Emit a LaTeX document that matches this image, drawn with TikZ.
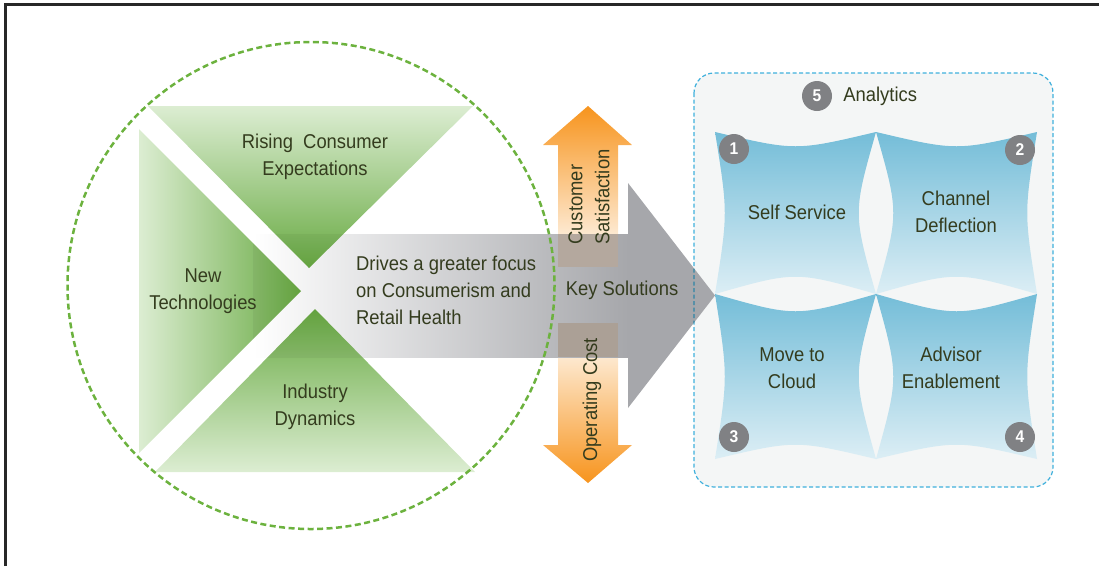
\documentclass[tikz,border=0pt]{standalone}
\usepackage{fontspec}
\setmainfont{Liberation Sans}[FakeStretch=0.92]
\usetikzlibrary{shapes,arrows,positioning}

\definecolor{framegray}{RGB}{40,40,40}
\definecolor{txtgreen}{RGB}{52,60,30}
\definecolor{leafgreen}{RGB}{104,170,66}
\definecolor{paleleaf}{RGB}{220,237,210}
\definecolor{ringgreen}{RGB}{108,178,62}
\definecolor{sunorange}{RGB}{247,148,29}
\definecolor{arrowgray}{RGB}{166,167,171}
\definecolor{mixbrown}{RGB}{180,168,158}
\definecolor{skyblue}{RGB}{116,189,216}
\definecolor{paleblue}{RGB}{220,238,245}
\definecolor{boxblue}{RGB}{63,176,220}
\definecolor{panelgray}{RGB}{244,246,246}
\definecolor{badgegray}{RGB}{128,129,132}

% one concave tile: x1 y1 x2 y2, then the bend of top, right, bottom, left side
\newcommand{\pillow}[8]{%
  \shade[top color=skyblue, bottom color=paleblue]
    (#1,#2) .. controls ({(#1+#3)/2},{#2+#5}) .. (#3,#2)
    .. controls ({#3-#6},{(#2+#4)/2}) .. (#3,#4)
    .. controls ({(#1+#3)/2},{#4-#7}) .. (#1,#4)
    .. controls ({#1+#8},{(#2+#4)/2}) .. cycle;}

\begin{document}
\begin{tikzpicture}[x=1pt, y=-1pt,
                    words/.style={text=txtgreen, font=\fontsize{20}{27}\selectfont, align=center, inner sep=0pt},
                    badge/.style={circle, fill=badgegray, text=white, minimum size=30pt, inner sep=0pt,
                                  font=\bfseries\fontsize{17}{17}\selectfont},
                    panelline/.style={line width=1.2pt, dash pattern=on 4pt off 2.5pt, rounded corners=20pt},
                    leaves/.style={insert path={(148,106) -- (473,106) -- (309,268) -- cycle
                                                (139,129) -- (301,291) -- (139,453) -- cycle
                                                (315,309) -- (475,472) -- (155,472) -- cycle}}]
    \useasboundingbox (0,0) rectangle (1099,566);
    \draw[framegray, line width=2.5pt] (5.5,566) -- (5.5,4.5) -- (1099,4.5);

    % right panel
    \draw[boxblue, fill=panelgray, panelline] (694,73) rectangle (1053,487);
    \pillow{715}{132}{876}{294}{19}{23}{23}{13}
    \pillow{876}{132}{1037}{294}{19}{13}{23}{23}
    \pillow{715}{294}{876}{459}{23}{23}{19}{13}
    \pillow{876}{294}{1037}{459}{23}{13}{19}{23}

    % orange arrows
    \shade[top color=sunorange, bottom color=white]
        (558,267) -- (558,145) -- (543,145) -- (588,106) -- (632,145) -- (618,145) -- (618,267) -- cycle;
    \shade[top color=white, bottom color=sunorange]
        (558,323) -- (558,445) -- (543,445) -- (588,483) -- (632,445) -- (618,445) -- (618,323) -- cycle;

    % big gray arrow
    \shade[left color=white, right color=arrowgray] (253,234) rectangle (628.5,357);
    \fill[arrowgray] (628,183) -- (715,295.5) -- (628,408) -- cycle;
    \begin{scope}
        \clip (628,183) -- (715,295.5) -- (628,408) -- cycle;
        \draw[boxblue!75!black, panelline] (694,73) rectangle (1053,487);
    \end{scope}
    \fill[mixbrown] (558,234) rectangle (618,267);
    \fill[mixbrown!95!black] (558,323) rectangle (618,357);

    % green triangles
    \shade[top color=paleleaf, bottom color=leafgreen] (148,106) -- (473,106) -- (309,268) -- cycle;
    \shade[left color=paleleaf, right color=leafgreen] (139,129) -- (301,291) -- (139,453) -- cycle;
    \shade[top color=leafgreen, bottom color=paleleaf] (315,309) -- (475,472) -- (155,472) -- cycle;
    \begin{scope}
        \clip (253,234) rectangle (628,357);
        \fill[black, fill opacity=0.045, leaves];
    \end{scope}

    \draw[ringgreen, line width=2.5pt, dash pattern=on 6pt off 3.5pt] (311,285.5) circle[radius=243.5];

    \node[words] (rising) at (315,157) {Rising\ \ Consumer\\Expectations};
    \node[words] (newtech) at (203,291) {New\\Technologies};
    \node[words] (industry) at (315,407) {Industry\\Dynamics};
    \node[words, align=left, anchor=west] (drives) at (356,290) {Drives a greater focus\\on Consumerism and\\Retail Health};
    \node[words, align=left, rotate=90] (custsat) at (589,197) {Customer\\Satisfaction};
    \node[words, rotate=90] (opcost) at (592,400) {Operating Cost};
    \node[words] (keysol) at (622,290) {Key Solutions};

    \node[words] (selfserv) at (797,212) {Self Service};
    \node[words] (deflect) at (956,212) {Channel\\Deflection};
    \node[words] (cloud) at (792,368) {Move to\\Cloud};
    \node[words] (advisor) at (951,368) {Advisor\\Enablement};

    \node[badge] (b1) at (734,149) {1};
    \node[badge] (b2) at (1020,150) {2};
    \node[badge] (b3) at (734,437) {3};
    \node[badge] (b4) at (1020,437) {4};
    \node[badge] (b5) at (817,96) {5};
    \node[words, right=11pt of b5] (analytics) {Analytics};
\end{tikzpicture}
\end{document}
